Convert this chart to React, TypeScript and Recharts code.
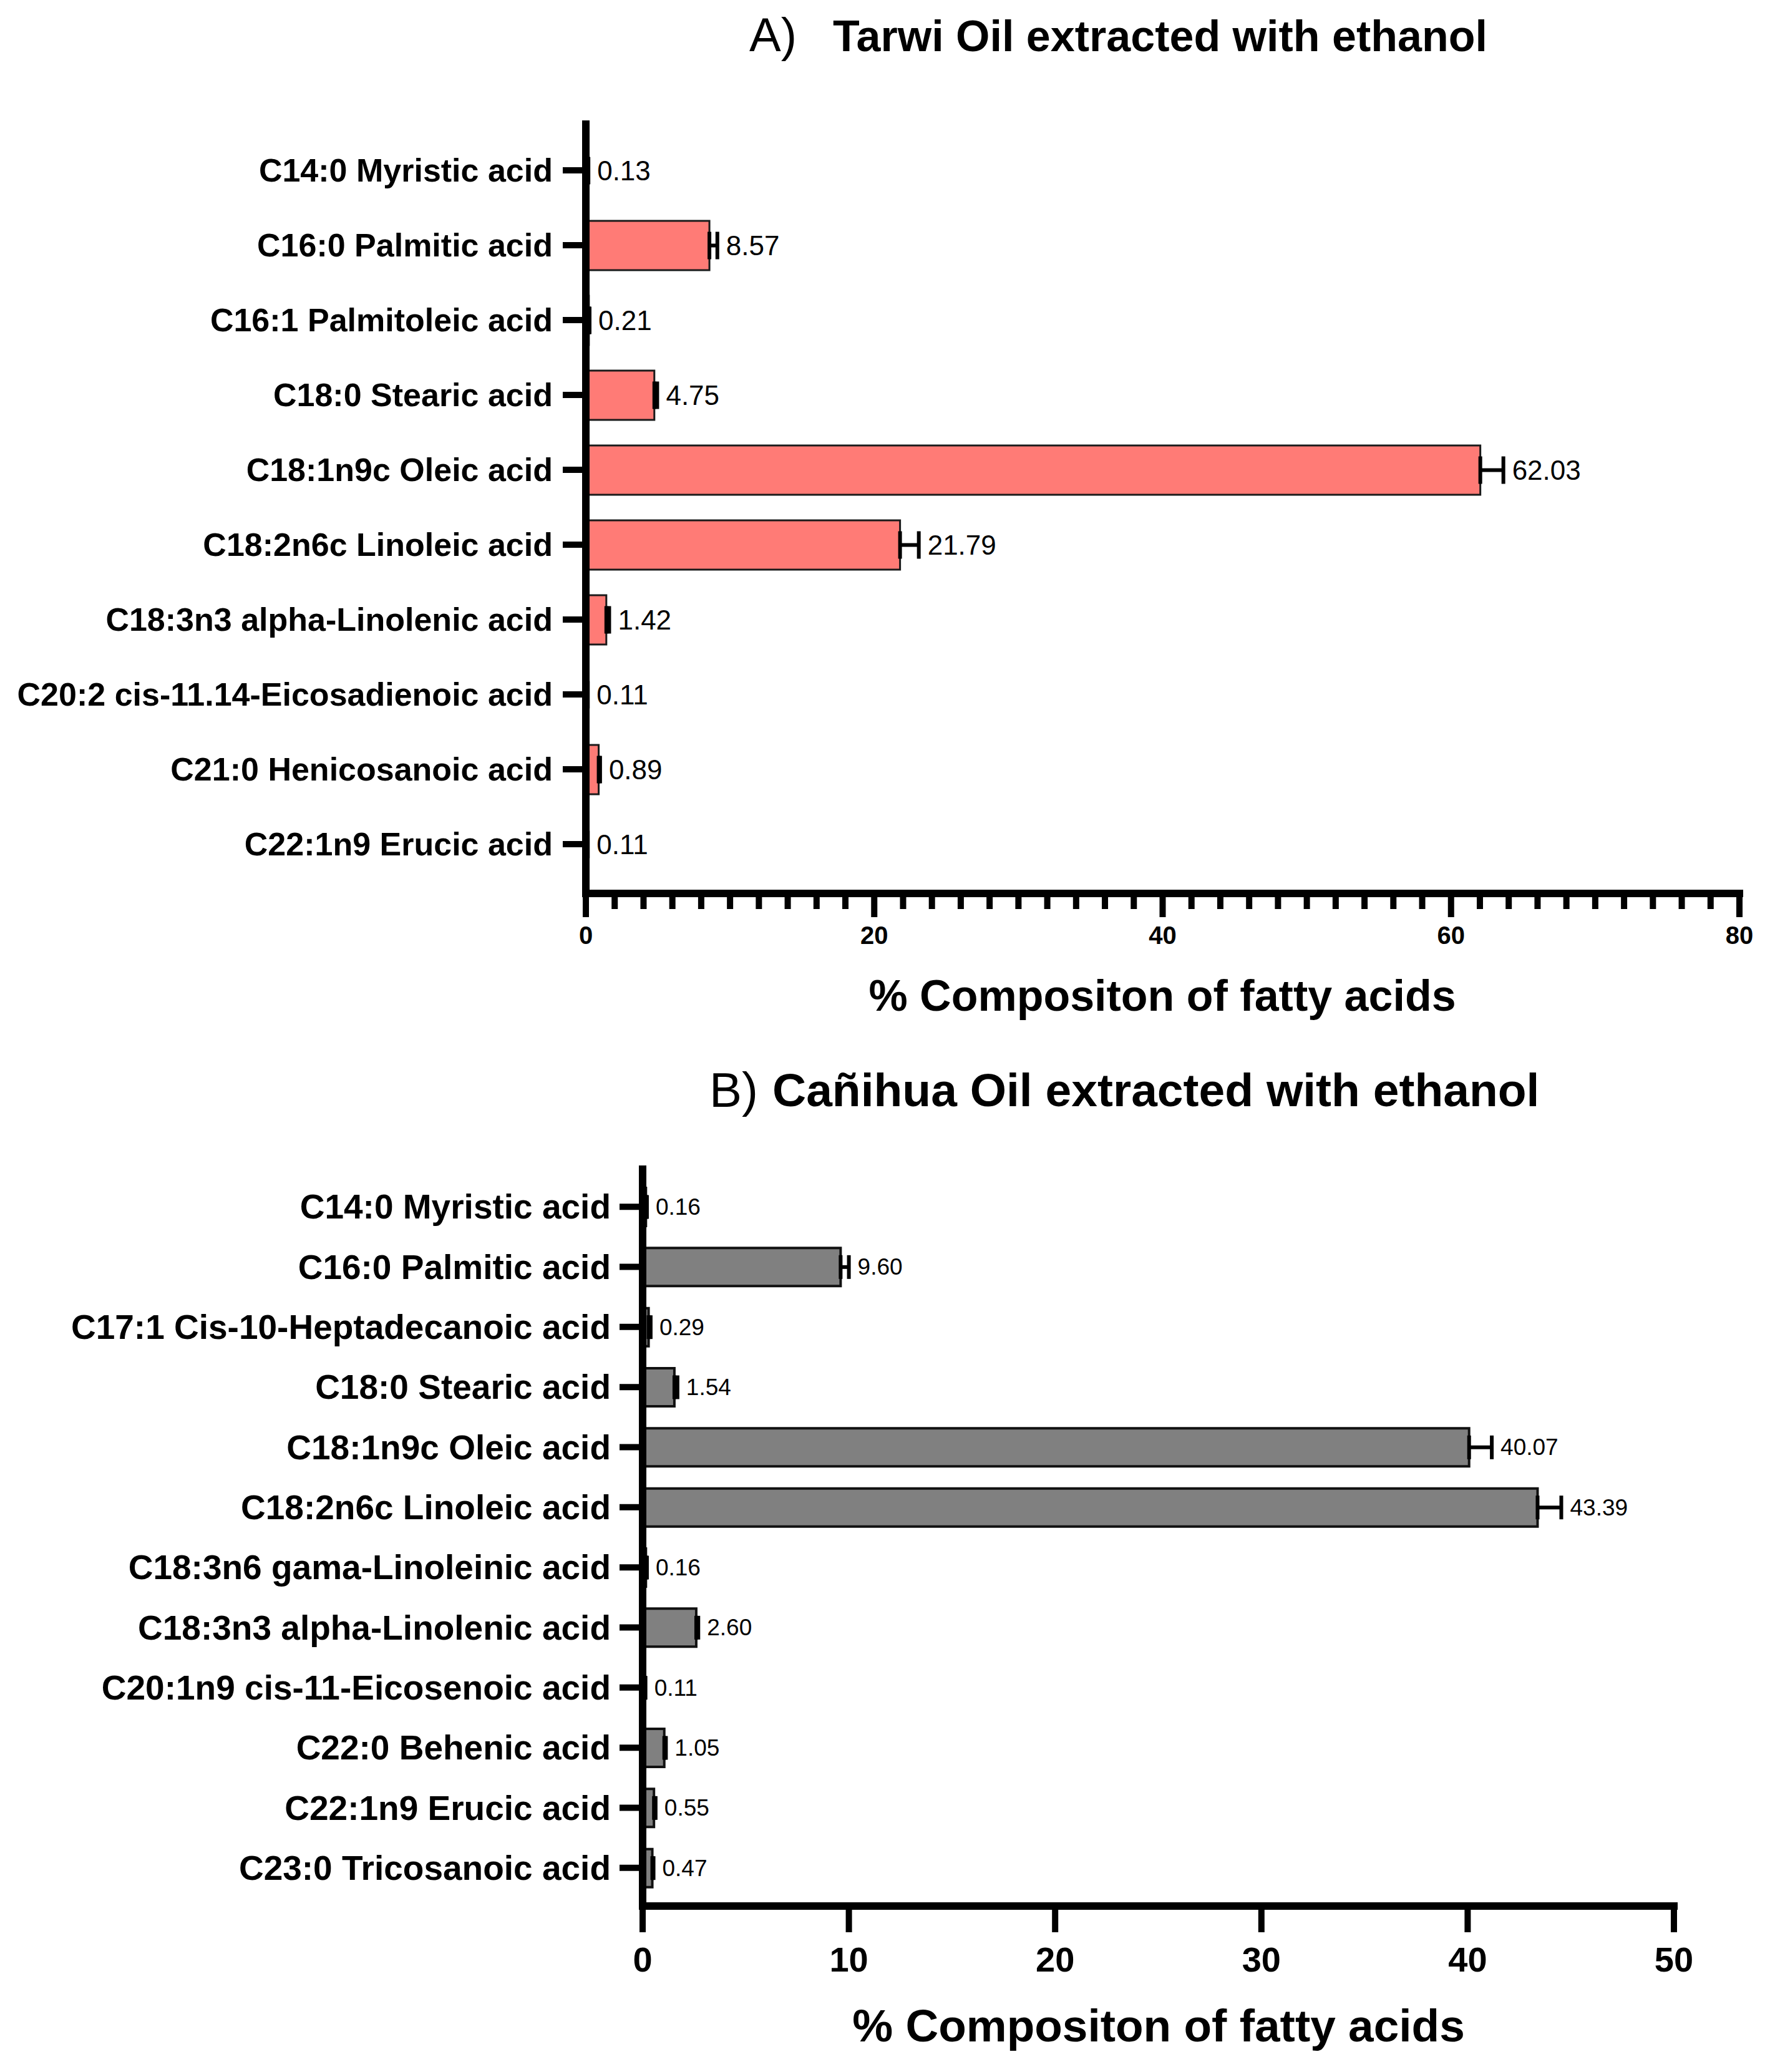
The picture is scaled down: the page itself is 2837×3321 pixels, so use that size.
import React from "react";
import { BarChart, Bar, XAxis, YAxis, ErrorBar, LabelList } from "recharts";

const FONT = "'Liberation Sans', Arial, Helvetica, sans-serif";

// A) Tarwi
const tarwiAcids = [
  "C14:0 Myristic acid",
  "C16:0 Palmitic acid",
  "C16:1 Palmitoleic acid",
  "C18:0 Stearic acid",
  "C18:1n9c Oleic acid",
  "C18:2n6c Linoleic acid",
  "C18:3n3 alpha-Linolenic acid",
  "C20:2 cis-11.14-Eicosadienoic acid",
  "C21:0 Henicosanoic acid",
  "C22:1n9 Erucic acid",
];
const tarwiValues = [0.13, 8.57, 0.21, 4.75, 62.03, 21.79, 1.42, 0.11, 0.89, 0.11];
const tarwiSd = [0.05, 0.55, 0.05, 0.2, 1.6, 1.3, 0.2, 0.03, 0.1, 0.03];
const tarwiMajorTicks = [0, 20, 40, 60, 80];
const tarwiMinorStep = 2;

// B) Cañihua
const canihuaAcids = [
  "C14:0 Myristic acid",
  "C16:0 Palmitic acid",
  "C17:1 Cis-10-Heptadecanoic acid",
  "C18:0 Stearic acid",
  "C18:1n9c Oleic acid",
  "C18:2n6c Linoleic acid",
  "C18:3n6 gama-Linoleinic acid",
  "C18:3n3 alpha-Linolenic acid",
  "C20:1n9 cis-11-Eicosenoic acid",
  "C22:0 Behenic acid",
  "C22:1n9 Erucic acid",
  "C23:0 Tricosanoic acid",
];
const canihuaValues = [0.16, 9.6, 0.29, 1.54, 40.07, 43.39, 0.16, 2.6, 0.11, 1.05, 0.55, 0.47];
const canihuaSd = [0.05, 0.4, 0.1, 0.15, 1.1, 1.15, 0.05, 0.1, 0.03, 0.08, 0.08, 0.06];
const canihuaTicks = [0, 10, 20, 30, 40, 50];

const tarwiData = tarwiAcids.map((name, i) => ({
  name,
  value: tarwiValues[i],
  err: [0, tarwiSd[i]],
}));
const canihuaData = canihuaAcids.map((name, i) => ({
  name,
  value: canihuaValues[i],
  err: [0, canihuaSd[i]],
}));

const tarwiAllTicks: number[] = [];
for (let v = 0; v <= 80; v += tarwiMinorStep) tarwiAllTicks.push(v);

function makeValueLabel(sd: number[], fontSize: number) {
  return (props: any) => {
    const vb = props.viewBox ?? props;
    const { x, y, width, height } = vb;
    const value = Number(props.value);
    const pxPerUnit = value > 0 ? width / value : 0;
    const lx = x + width + sd[props.index] * pxPerUnit + 14;
    return (
      <text
        x={lx}
        y={y + height / 2}
        dominantBaseline="central"
        fontSize={fontSize}
        fontFamily={FONT}
        fill="#000"
      >
        {value.toFixed(2)}
      </text>
    );
  };
}

function makeYTick(fontSize: number) {
  return (props: any) => (
    <text
      x={props.x}
      y={props.y}
      textAnchor="end"
      dominantBaseline="central"
      fontSize={fontSize}
      fontWeight="bold"
      fontFamily={FONT}
      fill="#000"
    >
      {props.payload.value}
    </text>
  );
}

function makeXTick(isMajor: (v: number) => boolean, majorLen: number, minorLen: number, fontSize: number, labelDy: number) {
  return (props: any) => {
    const v = props.payload.value;
    const major = isMajor(v);
    return (
      <g>
        <line x1={props.x} x2={props.x} y1={props.y} y2={props.y + (major ? majorLen : minorLen)} stroke="#000" strokeWidth={10} />
        {major && (
          <text
            x={props.x}
            y={props.y + labelDy}
            textAnchor="middle"
            dominantBaseline="central"
            fontSize={fontSize}
            fontWeight="bold"
            fontFamily={FONT}
            fill="#000"
          >
            {v}
          </text>
        )}
      </g>
    );
  };
}

export default function App() {
  return (
    <div style={{ position: "absolute", left: 0, top: 0, width: 2837, height: 3321, background: "#fff" }}>
      <div style={{ position: "absolute", left: 0, top: 0 }}>
        <BarChart
          width={2837}
          height={1650}
          data={tarwiData}
          layout="vertical"
          margin={{ top: 193, right: 49, bottom: 118, left: 0 }}
        >
          <XAxis
            type="number"
            domain={[0, 80]}
            ticks={tarwiAllTicks}
            interval={0}
            height={100}
            tickSize={0}
            tickMargin={0}
            tickLine={false}
            axisLine={{ stroke: "#000", strokeWidth: 12, strokeLinecap: "square" }}
            tick={makeXTick((v) => tarwiMajorTicks.includes(v), 38, 25, 40, 67)}
          />
          <YAxis
            type="category"
            dataKey="name"
            width={939}
            interval={0}
            padding={{ top: 20, bottom: 19 }}
            tickSize={37}
            tickMargin={16}
            tickLine={{ stroke: "#000", strokeWidth: 10 }}
            axisLine={{ stroke: "#000", strokeWidth: 12 }}
            tick={makeYTick(52)}
          />
          <Bar dataKey="value" barSize={79} fill="#FF7B76" stroke="#1a1a1a" strokeWidth={3} isAnimationActive={false}>
            <ErrorBar dataKey="err" direction="x" width={22} stroke="#000" strokeWidth={6} isAnimationActive={false} />
            <LabelList dataKey="value" content={makeValueLabel(tarwiSd, 44)} />
          </Bar>
        </BarChart>
      </div>

      <div style={{ position: "absolute", left: 0, top: 1650 }}>
        <BarChart
          width={2837}
          height={1671}
          data={canihuaData}
          layout="vertical"
          margin={{ top: 218, right: 154, bottom: 166, left: 0 }}
        >
          <XAxis
            type="number"
            domain={[0, 50]}
            ticks={canihuaTicks}
            interval={0}
            height={100}
            tickSize={0}
            tickMargin={0}
            tickLine={false}
            axisLine={{ stroke: "#000", strokeWidth: 12, strokeLinecap: "square" }}
            tick={makeXTick(() => true, 42, 42, 56, 85)}
          />
          <YAxis
            type="category"
            dataKey="name"
            width={1030}
            interval={0}
            padding={{ top: 18, bottom: 13 }}
            tickSize={37}
            tickMargin={14}
            tickLine={{ stroke: "#000", strokeWidth: 10 }}
            axisLine={{ stroke: "#000", strokeWidth: 12 }}
            tick={makeYTick(55)}
          />
          <Bar dataKey="value" barSize={61} fill="#808080" stroke="#111" strokeWidth={4} isAnimationActive={false}>
            <ErrorBar dataKey="err" direction="x" width={19} stroke="#000" strokeWidth={6} isAnimationActive={false} />
            <LabelList dataKey="value" content={makeValueLabel(canihuaSd, 37)} />
          </Bar>
        </BarChart>
      </div>

      <svg width={2837} height={3321} style={{ position: "absolute", left: 0, top: 0, pointerEvents: "none" }}>
        <g fontFamily={FONT} fill="#000">
          <text x={1201} y={82} fontSize={76}>A)</text>
          <text x={1335} y={82} fontSize={70} fontWeight="bold">Tarwi Oil extracted with ethanol</text>
          <text x={1863} y={1620} fontSize={70} fontWeight="bold" textAnchor="middle">% Compositon of fatty acids</text>
          <text x={1137} y={1774} fontSize={78}>B)</text>
          <text x={1238} y={1773} fontSize={75} fontWeight="bold">Cañihua Oil extracted with ethanol</text>
          <text x={1857} y={3272} fontSize={73} fontWeight="bold" textAnchor="middle">% Compositon of fatty acids</text>
        </g>
      </svg>
    </div>
  );
}
